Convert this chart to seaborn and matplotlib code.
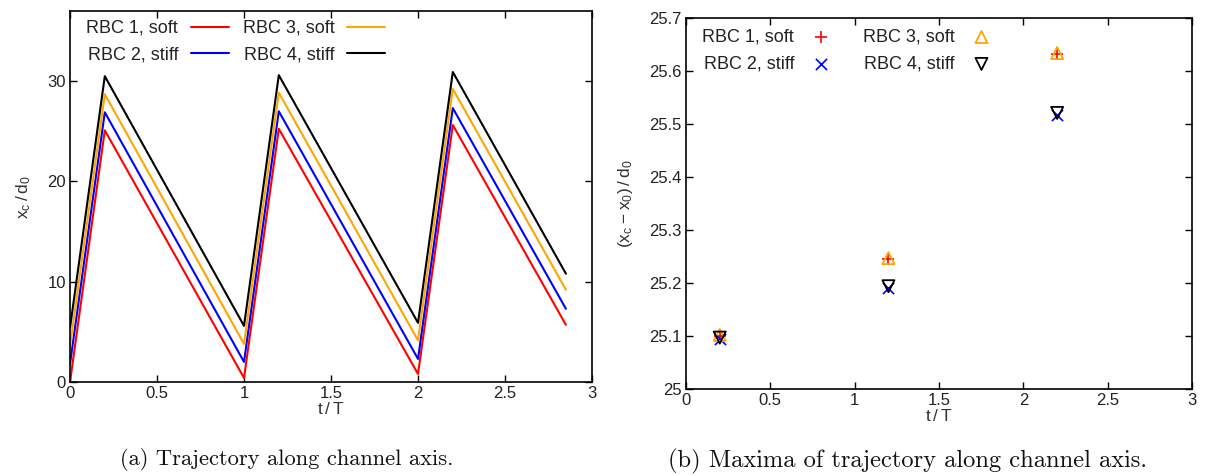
import numpy as np
import pandas as pd
import matplotlib
matplotlib.use("Agg")
import matplotlib.pyplot as plt
import seaborn as sns

# Trajectory of the cell centre along the channel axis (piecewise-linear sawtooth)
t_traj = [0.0, 0.2, 1.0, 1.2, 2.0, 2.2, 2.85]
rbc1_soft = [0.0, 25.10, 0.40, 25.25, 0.80, 25.63, 5.70]
rbc2_stiff = [1.80, 26.90, 2.00, 27.00, 2.30, 27.32, 7.30]
rbc3_soft = [3.60, 28.70, 3.80, 28.85, 4.15, 29.23, 9.20]
rbc4_stiff = [5.40, 30.50, 5.60, 30.60, 5.90, 30.92, 10.80]

# Maxima of the trajectory, relative to the starting position
t_max = [0.2, 1.2, 2.2]
max1_soft = [25.100, 25.245, 25.632]
max2_stiff = [25.095, 25.190, 25.518]
max3_soft = [25.102, 25.247, 25.634]
max4_stiff = [25.097, 25.194, 25.521]

labels = ["RBC 1, soft", "RBC 2, stiff", "RBC 3, soft", "RBC 4, stiff"]
colors = ["#ff0000", "#0000ff", "#ffa500", "#000000"]

x_ticks = [0, 0.5, 1, 1.5, 2, 2.5, 3]
x_ticklabels = ["0", "0.5", "1", "1.5", "2", "2.5", "3"]
y_ticks_a = [0, 10, 20, 30]
y_ticks_b = [25.0, 25.1, 25.2, 25.3, 25.4, 25.5, 25.6, 25.7]
y_ticklabels_b = ["25", "25.1", "25.2", "25.3", "25.4", "25.5", "25.6", "25.7"]

sns.set_theme(style="ticks")
plt.rcParams["font.family"] = ["Liberation Sans", "DejaVu Sans"]
plt.rcParams["text.color"] = "#222222"
plt.rcParams["axes.labelcolor"] = "#333333"

fig = plt.figure(figsize=(12.05, 4.75), dpi=100)
ax_a = fig.add_axes([0.0581, 0.1958, 0.4332, 0.781])
ax_b = fig.add_axes([0.5693, 0.181, 0.42, 0.781])

traj = pd.DataFrame({"t": t_traj, labels[0]: rbc1_soft, labels[1]: rbc2_stiff,
                     labels[2]: rbc3_soft, labels[3]: rbc4_stiff})
for lab, col in zip(labels, colors):
    sns.lineplot(data=traj, x="t", y=lab, ax=ax_a, color=col, linewidth=1.5,
                 label=lab, sort=False)

maxima = pd.DataFrame({"t": t_max, labels[0]: max1_soft, labels[1]: max2_stiff,
                       labels[2]: max3_soft, labels[3]: max4_stiff})
sns.scatterplot(data=maxima, x="t", y=labels[0], ax=ax_b, marker="+", s=85,
                color=colors[0], linewidth=1.2, label=labels[0])
sns.scatterplot(data=maxima, x="t", y=labels[1], ax=ax_b, marker="x", s=65,
                color=colors[1], linewidth=1.2, label=labels[1])
sns.scatterplot(data=maxima, x="t", y=labels[2], ax=ax_b, marker="^", s=75,
                facecolor="none", edgecolor=colors[2], linewidth=1.3, label=labels[2])
sns.scatterplot(data=maxima, x="t", y=labels[3], ax=ax_b, marker="v", s=75,
                facecolor="none", edgecolor=colors[3], linewidth=1.3, label=labels[3])

for ax in (ax_a, ax_b):
    ax.set_xlim(0, 3)
    ax.set_xticks(x_ticks)
    ax.set_xticklabels(x_ticklabels)
    ax.tick_params(direction="in", top=True, right=True, length=5, width=1,
                   labelsize=12, colors="#000000", labelcolor="#222222", pad=3)
    for sp in ax.spines.values():
        sp.set_linewidth(1.2)
        sp.set_color("#000000")
    ax.set_xlabel(r"$\mathregular{t\,/\,T}$", fontsize=12.5, labelpad=0)

leg_a = ax_a.legend(ncol=2, markerfirst=False, frameon=False, loc="upper left",
                    fontsize=13, handlelength=2.1, columnspacing=0.8,
                    labelspacing=0.55, handletextpad=0.7,
                    bbox_to_anchor=(0.0, 1.02))
leg_b = ax_b.legend(ncol=2, markerfirst=False, frameon=False, loc="upper left",
                    fontsize=13, handlelength=2.0, columnspacing=1.3,
                    labelspacing=0.55, handletextpad=0.5,
                    bbox_to_anchor=(0.0, 1.015))

ax_a.set_ylim(0, 37)
ax_a.set_yticks(y_ticks_a)
ax_a.set_ylabel(r"$\mathregular{x_c\,/\,d_0}$", fontsize=12.5, labelpad=10)

ax_b.set_ylim(25.0, 25.7)
ax_b.set_yticks(y_ticks_b)
ax_b.set_yticklabels(y_ticklabels_b)
ax_b.set_ylabel(r"$\mathregular{(x_c - x_0)\,/\,d_0}$", fontsize=12.5, labelpad=10)

fig.text(0.238, 0.032, "(a) Trajectory along channel axis.", ha="center",
         va="center", fontsize=16.2, family="cmr10", color="#111111")
fig.text(0.7527, 0.028, "(b) Maxima of trajectory along channel axis.", ha="center",
         va="center", fontsize=17.6, family="cmr10", color="#111111")

fig.savefig("out.png", dpi=100)
